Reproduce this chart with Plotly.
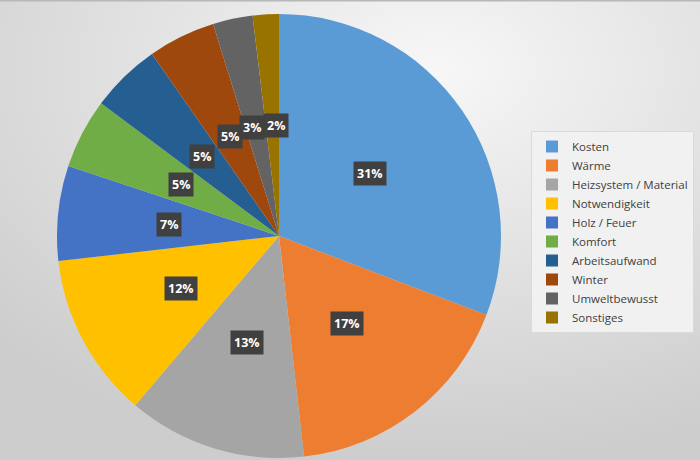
import math, base64
import plotly.graph_objects as go

labels = ["Kosten", "Wärme", "Heizsystem / Material", "Notwendigkeit", "Holz / Feuer",
          "Komfort", "Arbeitsaufwand", "Winter", "Umweltbewusst", "Sonstiges"]
values = [30.8, 17.4, 13.0, 12.0, 6.9, 5.1, 5.1, 4.9, 2.9, 1.9]
pct_text = ["31%", "17%", "13%", "12%", "7%", "5%", "5%", "5%", "3%", "2%"]
colors = ["#5B9BD5", "#ED7D31", "#A5A5A5", "#FFC000", "#4472C4",
          "#70AD47", "#255E91", "#9E480E", "#636363", "#997300"]

W, H = 700, 460
cx, cy, R = 279, 236, 222  # pixel geometry of the pie
dom_x = [(cx - R) / W, (cx + R) / W]
dom_y = [(H - cy - R) / H, (H - cy + R) / H]
label_xshift = {8: -4, 9: 4}  # keep the two smallest labels from colliding

svg = f'''<svg xmlns="http://www.w3.org/2000/svg" width="{W}" height="{H}">
<defs><radialGradient id="g" cx="0.62" cy="0.15" r="0.85">
<stop offset="0" stop-color="#f7f7f7"/><stop offset="1" stop-color="#cdcdcd"/></radialGradient></defs>
<rect width="{W}" height="{H}" fill="url(#g)"/>
<rect x="0" y="0" width="{W}" height="1.5" fill="#b8b8b8"/></svg>'''
bg_uri = "data:image/svg+xml;base64," + base64.b64encode(svg.encode()).decode()

fig = go.Figure(go.Pie(
    labels=labels, values=values, sort=False, direction="clockwise", rotation=0,
    marker=dict(colors=colors, line=dict(width=0)),
    textinfo="none", hoverinfo="label+percent",
    domain=dict(x=dom_x, y=dom_y),
))

total = sum(values)
cum = 0.0
annotations = []
for i, (v, t) in enumerate(zip(values, pct_text)):
    mid = (cum + v / 2) / total * 2 * math.pi
    cum += v
    px = cx + 0.5 * R * math.sin(mid)
    py = cy - 0.5 * R * math.cos(mid)
    annotations.append(dict(
        x=px / W, y=1 - py / H, xref="paper", yref="paper", showarrow=False,
        xshift=label_xshift.get(i, 0),
        text=f"<b>{t}</b>", font=dict(family="Open Sans", size=12.5, color="white"),
        bgcolor="#404040", borderpad=3, xanchor="center", yanchor="middle"))

fig.update_layout(
    width=W, height=H, margin=dict(l=0, r=0, t=0, b=0, autoexpand=False),
    paper_bgcolor="#e2e2e2", plot_bgcolor="rgba(0,0,0,0)",
    images=[dict(source=bg_uri, xref="paper", yref="paper", x=0, y=1, sizex=1, sizey=1,
                 sizing="stretch", layer="below", xanchor="left", yanchor="top")],
    annotations=annotations,
    legend=dict(x=694 / W, y=1 - 232 / H, xanchor="right", yanchor="middle",
                bgcolor="#f1f1f1", bordercolor="#dadada", borderwidth=1,
                font=dict(family="Open Sans", size=11.5, color="#404040"),
                itemwidth=30, traceorder="normal"),
    showlegend=True,
)

fig.write_html("out.html")
